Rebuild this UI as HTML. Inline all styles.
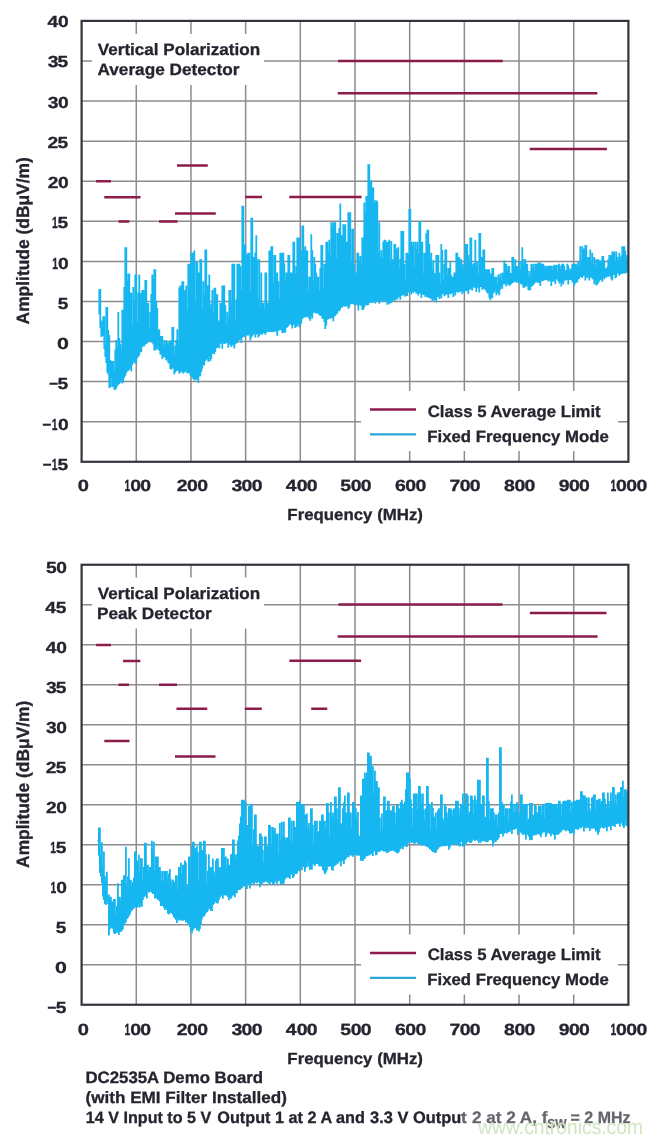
<!DOCTYPE html>
<html><head><meta charset="utf-8"><title>EMI Radiated Emissions</title>
<style>html,body{margin:0;padding:0;background:#fff;}svg{display:block;}</style>
</head><body>
<svg width="662" height="1143" viewBox="0 0 662 1143" style="font-family:'Liberation Sans',Arial,sans-serif;font-weight:bold;text-rendering:geometricPrecision"><path d="M136.28 20.90V461.78M190.96 20.90V461.78M245.64 20.90V461.78M300.32 20.90V461.78M355.00 20.90V461.78M409.68 20.90V461.78M464.36 20.90V461.78M519.04 20.90V461.78M573.72 20.90V461.78M81.60 60.98H628.40M81.60 101.06H628.40M81.60 141.14H628.40M81.60 181.22H628.40M81.60 221.30H628.40M81.60 261.38H628.40M81.60 301.46H628.40M81.60 341.54H628.40M81.60 381.62H628.40M81.60 421.70H628.40" stroke="#8c8c8c" stroke-width="1.5" fill="none"/>
<rect x="92" y="34.00" width="172" height="51" fill="#fff"/>
<rect x="361" y="391.00" width="257" height="60" fill="#fff"/>
<path d="M98.3 301.1V302.1M99.3 288.9V314.2M100.3 288.9V328.2M101.3 320.6V337.0M102.3 321.7V335.8M103.3 316.2V336.3M104.3 316.2V349.0M105.3 344.9V357.1M106.3 306.9V363.0M107.3 306.9V372.5M108.3 330.0V374.6M109.3 335.0V387.9M110.3 360.0V387.2M111.3 361.0V378.0M112.3 361.0V386.9M113.3 361.0V386.1M114.3 370.7V389.4M115.3 349.5V390.1M116.3 340.0V388.2M117.3 346.2V386.1M118.3 312.0V384.8M119.3 338.0V383.8M120.3 343.7V382.7M121.3 350.6V379.7M122.3 309.8V383.5M123.3 309.8V382.6M124.3 287.0V377.8M125.3 247.3V375.9M126.3 247.3V373.0M127.3 281.0V371.3M128.3 273.4V370.9M129.3 273.4V369.5M130.3 292.7V367.6M131.3 292.7V371.4M132.3 324.6V365.0M133.3 287.0V362.8M134.3 299.6V361.5M135.3 274.5V363.8M136.3 274.5V362.9M137.3 321.9V358.2M138.3 292.7V356.8M139.3 274.5V355.5M140.3 292.7V352.0M141.3 292.7V352.3M142.3 290.0V347.0M143.3 290.0V345.6M144.3 290.0V346.5M145.3 280.1V344.3M146.3 280.1V344.3M147.3 303.0V343.0M148.3 303.0V341.5M149.3 327.3V340.8M150.3 311.8V341.4M151.3 293.9V342.2M152.3 274.6V342.6M153.3 278.6V344.4M154.3 269.2V350.5M155.3 269.2V350.3M156.3 300.9V349.5M157.3 308.1V346.5M158.3 331.1V349.7M159.3 329.3V350.7M160.3 335.9V354.3M161.3 335.9V354.8M162.3 335.9V358.9M163.3 346.4V356.7M164.3 340.2V357.3M165.3 344.3V357.8M166.3 340.2V360.6M167.3 342.4V360.4M168.3 342.4V362.9M169.3 342.4V363.8M170.3 340.2V368.9M171.3 340.2V369.4M172.3 327.1V368.5M173.3 327.1V368.3M174.3 353.7V374.6M175.3 345.6V372.4M176.3 339.9V371.0M177.3 329.3V370.9M178.3 342.4V370.4M179.3 287.6V373.8M180.3 285.6V372.4M181.3 285.6V370.5M182.3 281.2V372.2M183.3 281.2V373.5M184.3 290.1V372.2M185.3 290.0V371.9M186.3 285.6V369.5M187.3 310.6V373.6M188.3 263.7V372.6M189.3 263.7V373.0M190.3 263.7V375.2M191.3 252.8V376.6M192.3 252.8V377.5M193.3 252.8V379.0M194.3 250.6V380.6M195.3 300.9V379.7M196.3 261.5V378.6M197.3 262.4V380.0M198.3 272.5V382.8M199.3 272.5V376.6M200.3 259.3V376.2M201.3 259.3V371.7M202.3 308.4V368.7M203.3 281.2V364.4M204.3 294.1V365.4M205.3 249.5V360.9M206.3 249.5V359.8M207.3 285.6V359.0M208.3 285.6V362.1M209.3 274.6V356.0M210.3 306.9V360.9M211.3 303.5V359.1M212.3 290.0V353.8M213.3 313.2V353.7M214.3 287.8V354.3M215.3 287.8V351.8M216.3 294.3V348.2M217.3 294.3V347.8M218.3 320.6V347.5M219.3 320.6V348.3M220.3 303.0V343.4M221.3 303.0V343.7M222.3 285.6V348.7M223.3 285.6V342.5M224.3 285.6V344.0M225.3 305.1V342.0M226.3 323.7V343.4M227.3 311.8V343.1M228.3 317.5V347.7M229.3 290.0V343.6M230.3 290.0V345.1M231.3 303.1V347.0M232.3 263.7V344.2M233.3 263.7V345.4M234.3 263.7V348.4M235.3 320.7V344.3M236.3 299.6V343.1M237.3 263.7V343.2M238.3 263.7V340.7M239.3 263.7V339.9M240.3 266.2V338.4M241.3 289.9V342.9M242.3 205.8V338.1M243.3 205.8V336.0M244.3 244.6V337.0M245.3 244.5V336.6M246.3 255.4V335.2M247.3 254.0V335.6M248.3 252.8V335.4M249.3 252.8V334.2M250.3 290.3V340.5M251.3 217.8V337.8M252.3 217.8V336.0M253.3 257.1V334.5M254.3 257.1V333.8M255.3 252.6V337.5M256.3 235.3V334.4M257.3 259.3V333.6M258.3 298.3V337.6M259.3 259.3V335.7M260.3 305.4V334.4M261.3 272.5V333.6M262.3 303.0V334.7M263.3 303.0V332.9M264.3 309.2V333.1M265.3 272.5V334.8M266.3 272.5V333.0M267.3 303.0V331.0M268.3 303.5V332.1M269.3 250.6V331.5M270.3 250.6V331.9M271.3 246.2V332.1M272.3 246.2V330.9M273.3 283.6V332.3M274.3 255.0V331.4M275.3 255.0V331.1M276.3 272.5V331.9M277.3 272.5V335.8M278.3 281.2V330.4M279.3 298.5V330.6M280.3 252.8V329.2M281.3 252.8V330.3M282.3 252.8V333.0M283.3 252.8V333.0M284.3 263.3V332.3M285.3 280.9V332.7M286.3 272.5V327.9M287.3 272.5V327.2M288.3 255.0V326.3M289.3 255.0V324.3M290.3 272.5V324.2M291.3 272.5V325.1M292.3 272.5V328.6M293.3 241.8V324.5M294.3 241.8V325.2M295.3 274.2V328.0M296.3 265.9V326.9M297.3 237.5V325.5M298.3 237.5V323.6M299.3 237.5V327.2M300.3 288.6V325.5M301.3 250.6V323.4M302.3 225.4V319.0M303.3 225.4V317.8M304.3 250.6V317.1M305.3 246.2V317.4M306.3 250.6V316.7M307.3 250.6V317.2M308.3 291.1V316.4M309.3 276.8V318.9M310.3 276.8V320.7M311.3 234.2V316.1M312.3 250.2V318.4M313.3 280.5V312.9M314.3 257.1V311.6M315.3 263.7V312.8M316.3 272.8V313.7M317.3 276.8V313.3M318.3 276.8V313.5M319.3 290.5V315.0M320.3 268.1V316.0M321.3 245.1V314.8M322.3 245.1V318.8M323.3 287.8V318.4M324.3 263.7V322.1M325.3 263.7V329.1M326.3 241.8V325.6M327.3 241.8V319.7M328.3 251.8V319.0M329.3 239.7V317.9M330.3 255.6V318.7M331.3 222.2V317.9M332.3 226.3V317.9M333.3 222.2V321.3M334.3 222.2V316.5M335.3 222.2V315.8M336.3 258.0V314.4M337.3 233.1V313.4M338.3 233.1V310.8M339.3 227.9V311.3M340.3 203.6V309.6M341.3 235.3V307.6M342.3 235.3V307.4M343.3 224.3V306.3M344.3 224.3V306.3M345.3 224.3V306.8M346.3 241.8V306.2M347.3 241.8V305.6M348.3 212.3V308.7M349.3 212.3V307.6M350.3 212.3V304.4M351.3 259.9V304.1M352.3 228.7V303.9M353.3 228.7V303.0M354.3 264.5V304.9M355.3 272.1V304.1M356.3 274.1V305.2M357.3 252.8V304.3M358.3 252.8V310.6M359.3 260.4V304.8M360.3 255.9V305.6M361.3 264.9V305.7M362.3 237.5V310.0M363.3 237.5V309.8M364.3 202.5V307.4M365.3 212.0V305.3M366.3 195.9V304.9M367.3 195.9V305.6M368.3 164.2V305.0M369.3 164.2V302.9M370.3 180.6V303.1M371.3 180.6V301.8M372.3 187.2V302.8M373.3 187.2V302.4M374.3 203.5V302.1M375.3 200.3V303.4M376.3 200.3V300.7M377.3 201.4V301.3M378.3 252.6V301.2M379.3 222.2V303.7M380.3 257.6V301.8M381.3 250.2V300.8M382.3 258.5V300.8M383.3 241.8V301.9M384.3 239.7V300.7M385.3 239.7V301.3M386.3 241.8V301.3M387.3 241.8V304.7M388.3 241.8V302.9M389.3 239.7V304.3M390.3 262.0V302.7M391.3 241.0V303.1M392.3 259.3V301.5M393.3 259.3V299.7M394.3 244.0V300.7M395.3 244.0V300.4M396.3 248.4V299.0M397.3 248.4V299.4M398.3 247.3V297.0M399.3 267.7V297.4M400.3 258.7V299.8M401.3 230.9V295.7M402.3 230.9V295.1M403.3 230.9V295.5M404.3 263.7V295.1M405.3 280.3V296.7M406.3 252.9V295.7M407.3 252.8V296.0M408.3 254.8V292.4M409.3 209.0V291.8M410.3 209.0V292.1M411.3 241.8V294.5M412.3 246.0V291.5M413.3 241.8V292.9M414.3 266.2V291.8M415.3 241.8V291.7M416.3 248.7V293.7M417.3 241.8V293.4M418.3 253.7V295.5M419.3 221.1V293.4M420.3 221.1V293.6M421.3 241.8V297.9M422.3 241.8V294.8M423.3 273.3V294.8M424.3 252.8V295.0M425.3 252.8V296.9M426.3 233.2V296.3M427.3 229.8V297.3M428.3 229.8V297.8M429.3 244.0V297.6M430.3 259.1V298.7M431.3 252.8V298.2M432.3 270.4V300.7M433.3 260.6V300.3M434.3 272.9V300.5M435.3 274.0V300.1M436.3 255.0V302.6M437.3 255.0V297.0M438.3 255.0V296.5M439.3 272.5V298.9M440.3 283.0V295.4M441.3 244.0V298.6M442.3 250.1V293.9M443.3 280.2V293.9M444.3 263.7V296.2M445.3 249.5V295.1M446.3 249.5V294.2M447.3 274.8V294.6M448.3 268.1V298.0M449.3 268.1V294.1M450.3 261.5V294.2M451.3 275.3V293.6M452.3 276.8V293.5M453.3 276.8V297.1M454.3 272.5V293.0M455.3 272.5V295.4M456.3 252.8V291.7M457.3 252.8V291.9M458.3 257.1V292.8M459.3 257.1V291.1M460.3 259.3V292.1M461.3 259.3V291.1M462.3 267.5V294.2M463.3 263.7V292.3M464.3 277.1V291.4M465.3 244.0V290.8M466.3 244.0V291.2M467.3 244.0V291.3M468.3 255.0V293.9M469.3 261.4V289.8M470.3 237.5V288.4M471.3 237.5V289.7M472.3 265.8V290.5M473.3 263.7V287.1M474.3 262.9V287.5M475.3 239.7V288.1M476.3 266.0V292.0M477.3 261.5V286.4M478.3 273.6V288.3M479.3 233.1V292.5M480.3 233.1V286.9M481.3 257.1V286.8M482.3 257.1V289.8M483.3 249.5V288.1M484.3 249.5V289.2M485.3 269.2V289.6M486.3 269.2V291.2M487.3 269.2V293.2M488.3 269.2V293.4M489.3 269.2V297.7M490.3 273.5V300.3M491.3 274.3V298.2M492.3 268.1V298.3M493.3 268.1V293.2M494.3 276.8V292.4M495.3 276.8V289.6M496.3 276.8V295.3M497.3 283.2V291.7M498.3 274.6V293.6M499.3 278.0V295.2M500.3 273.5V289.8M501.3 280.0V286.3M502.3 272.5V288.8M503.3 273.6V284.2M504.3 260.4V284.1M505.3 263.7V284.5M506.3 263.7V286.6M507.3 270.6V284.2M508.3 265.9V284.3M509.3 265.9V286.0M510.3 273.6V285.0M511.3 273.1V284.0M512.3 257.1V283.0M513.3 257.1V282.6M514.3 267.7V282.0M515.3 259.3V280.5M516.3 265.9V282.4M517.3 265.9V282.7M518.3 268.8V282.5M519.3 261.5V282.3M520.3 269.1V283.5M521.3 261.2V284.4M522.3 247.3V284.5M523.3 265.2V287.8M524.3 259.3V287.7M525.3 259.3V286.6M526.3 263.7V286.4M527.3 263.7V284.5M528.3 276.4V290.1M529.3 271.1V290.5M530.3 276.6V290.0M531.3 263.7V286.5M532.3 268.4V286.3M533.3 263.7V285.1M534.3 270.9V283.5M535.3 263.7V282.8M536.3 263.7V282.0M537.3 263.7V282.6M538.3 262.6V283.0M539.3 262.6V282.8M540.3 262.6V285.9M541.3 263.7V281.6M542.3 263.7V280.9M543.3 263.7V280.7M544.3 265.8V280.2M545.3 269.3V280.3M546.3 265.8V279.4M547.3 267.1V280.0M548.3 265.8V281.5M549.3 265.8V280.0M550.3 265.8V281.3M551.3 265.8V286.0M552.3 270.3V281.6M553.3 265.8V281.8M554.3 264.8V279.8M555.3 266.7V283.9M556.3 264.8V279.4M557.3 271.7V279.5M558.3 264.8V280.9M559.3 263.7V283.5M560.3 269.1V281.9M561.3 265.4V286.6M562.3 263.7V282.5M563.3 263.7V284.2M564.3 265.8V280.7M565.3 270.5V280.5M566.3 269.9V280.3M567.3 263.7V279.7M568.3 265.3V284.6M569.3 270.7V279.2M570.3 268.4V279.9M571.3 270.1V279.7M572.3 263.7V282.3M573.3 266.9V281.5M574.3 263.7V285.7M575.3 263.7V283.6M576.3 263.7V281.9M577.3 265.8V282.6M578.3 261.5V278.8M579.3 265.6V279.3M580.3 246.2V276.4M581.3 262.2V276.9M582.3 246.2V278.1M583.3 248.4V275.9M584.3 248.4V275.8M585.3 245.1V280.5M586.3 245.1V277.3M587.3 257.1V277.9M588.3 257.1V277.3M589.3 257.1V280.6M590.3 249.5V277.4M591.3 262.9V277.6M592.3 252.7V278.8M593.3 264.0V279.6M594.3 257.1V284.2M595.3 266.3V280.2M596.3 259.3V285.4M597.3 259.3V284.5M598.3 259.3V283.1M599.3 260.4V281.3M600.3 260.4V280.0M601.3 260.4V279.8M602.3 256.0V281.8M603.3 256.0V277.3M604.3 260.6V279.3M605.3 268.6V276.1M606.3 268.3V277.7M607.3 266.8V276.7M608.3 259.3V276.7M609.3 254.9V275.9M610.3 254.9V276.3M611.3 255.5V279.2M612.3 251.6V280.4M613.3 251.6V275.1M614.3 251.6V274.3M615.3 260.7V278.3M616.3 251.6V277.4M617.3 257.1V273.4M618.3 262.5V273.2M619.3 252.7V275.7M620.3 259.1V274.2M621.3 255.5V273.5M622.3 246.2V274.1M623.3 246.2V273.1M624.3 246.2V273.6M625.3 250.5V272.3M626.3 258.1V273.2M627.3 254.9V272.1" stroke="#16b6f0" stroke-width="1.8" fill="none"/>
<path d="M96.1 181.3H111.0M104.3 197.3H140.5M118.5 221.4H129.3M159.0 221.4H177.5M177.0 165.4H207.8M175.0 213.4H215.8M245.3 197.1H262.0M289.3 197.1H361.6M338.0 61.0H502.8M337.8 93.2H597.4M529.7 149.0H606.9" stroke="#8d1b4b" stroke-width="2.5" fill="none"/>
<rect x="81.60" y="20.90" width="546.80" height="440.88" fill="none" stroke="#34343f" stroke-width="2.2"/>
<path d="M370 409.50H416" stroke="#8d1b4b" stroke-width="2.4"/>
<path d="M370 434.40H416" stroke="#2aa8d8" stroke-width="2.2"/>
<g fill="#25242f" stroke="#25242f" stroke-width="0.3">
<text transform="translate(427.76 416.80) scale(1.0155 1.0000)" font-size="16.5">Class 5 Average Limit</text>
<text transform="translate(427.35 441.80) scale(1.0143 1.0000)" font-size="16.5">Fixed Frequency Mode</text>
<text transform="translate(97.78 55.30) scale(1.0355 1.0000)" font-size="16.5">Vertical Polarization</text>
<text transform="translate(97.47 75.30) scale(1.0433 1.0000)" font-size="16.5">Average Detector</text>
<text transform="translate(0 27.00) scale(1.200 1.000)" font-size="16.0"><tspan x="39.57">4</tspan><tspan x="48.33">0</tspan></text>
<text transform="translate(0 67.26) scale(1.200 1.000)" font-size="16.0"><tspan x="39.79">3</tspan><tspan x="47.95">5</tspan></text>
<text transform="translate(0 107.52) scale(1.200 1.000)" font-size="16.0"><tspan x="39.79">3</tspan><tspan x="48.33">0</tspan></text>
<text transform="translate(0 147.78) scale(1.200 1.000)" font-size="16.0"><tspan x="39.57">2</tspan><tspan x="47.95">5</tspan></text>
<text transform="translate(0 188.04) scale(1.200 1.000)" font-size="16.0"><tspan x="39.76">2</tspan><tspan x="48.33">0</tspan></text>
<text transform="translate(0 228.30) scale(1.200 1.000)" font-size="16.0"><tspan x="43.28" textLength="4.79" lengthAdjust="spacingAndGlyphs">1</tspan><tspan x="47.95">5</tspan></text>
<text transform="translate(0 268.56) scale(1.200 1.000)" font-size="16.0"><tspan x="43.62" textLength="4.79" lengthAdjust="spacingAndGlyphs">1</tspan><tspan x="48.33">0</tspan></text>
<text transform="translate(57.65 308.82) scale(1.1870 1.0000)" font-size="16.0">5</text>
<text transform="translate(56.91 349.08) scale(1.3364 1.0000)" font-size="16.0">0</text>
<text transform="translate(0 389.34) scale(1.200 1.000)" font-size="16.0"><tspan x="41.01" textLength="7.23" lengthAdjust="spacingAndGlyphs" dy="-1">–</tspan><tspan x="47.95" dy="1">5</tspan></text>
<text transform="translate(0 429.60) scale(1.200 1.000)" font-size="16.0"><tspan x="35.35" textLength="7.23" lengthAdjust="spacingAndGlyphs" dy="-1">–</tspan><tspan x="43.03" textLength="4.79" lengthAdjust="spacingAndGlyphs" dy="1">1</tspan><tspan x="48.33">0</tspan></text>
<text transform="translate(0 469.86) scale(1.200 1.000)" font-size="16.0"><tspan x="35.68" textLength="7.23" lengthAdjust="spacingAndGlyphs" dy="-1">–</tspan><tspan x="43.03" textLength="4.79" lengthAdjust="spacingAndGlyphs" dy="1">1</tspan><tspan x="47.95">5</tspan></text>
<text transform="translate(77.63 491.00) scale(1.2423 1.0000)" font-size="16.2">0</text>
<text transform="translate(0 491.00) scale(1.200 1.000)" font-size="16.2"><tspan x="103.78" textLength="4.79" lengthAdjust="spacingAndGlyphs">1</tspan><tspan x="108.49">0</tspan><tspan x="116.97">0</tspan></text>
<text transform="translate(0 491.00) scale(1.200 1.000)" font-size="16.2"><tspan x="147.32">2</tspan><tspan x="155.85">0</tspan><tspan x="164.33">0</tspan></text>
<text transform="translate(0 491.00) scale(1.200 1.000)" font-size="16.2"><tspan x="192.83">3</tspan><tspan x="201.32">0</tspan><tspan x="209.80">0</tspan></text>
<text transform="translate(0 491.00) scale(1.200 1.000)" font-size="16.2"><tspan x="238.13">4</tspan><tspan x="247.21">0</tspan><tspan x="255.69">0</tspan></text>
<text transform="translate(0 491.00) scale(1.200 1.000)" font-size="16.2"><tspan x="283.59">5</tspan><tspan x="292.24">0</tspan><tspan x="300.72">0</tspan></text>
<text transform="translate(0 491.00) scale(1.200 1.000)" font-size="16.2"><tspan x="329.16">6</tspan><tspan x="337.69">0</tspan><tspan x="346.17">0</tspan></text>
<text transform="translate(0 491.00) scale(1.200 1.000)" font-size="16.2"><tspan x="374.62">7</tspan><tspan x="383.08">0</tspan><tspan x="391.56">0</tspan></text>
<text transform="translate(0 491.00) scale(1.200 1.000)" font-size="16.2"><tspan x="420.08">8</tspan><tspan x="428.68">0</tspan><tspan x="437.16">0</tspan></text>
<text transform="translate(0 491.00) scale(1.200 1.000)" font-size="16.2"><tspan x="465.56">9</tspan><tspan x="474.10">0</tspan><tspan x="482.58">0</tspan></text>
<text transform="translate(0 491.00) scale(1.200 1.000)" font-size="16.2"><tspan x="508.67" textLength="4.79" lengthAdjust="spacingAndGlyphs">1</tspan><tspan x="513.43">0</tspan><tspan x="521.95">0</tspan><tspan x="530.48">0</tspan></text>
<text transform="translate(287.35 520.00) scale(1.0201 0.9800)" font-size="16.5">Frequency (MHz)</text>
<text transform="translate(28.7 324.43) rotate(-90) scale(1.0546 1.08)" font-size="16.5">Amplitude (dB&#956;V/m)</text>
</g>
<path d="M136.28 564.75V1004.75M190.96 564.75V1004.75M245.64 564.75V1004.75M300.32 564.75V1004.75M355.00 564.75V1004.75M409.68 564.75V1004.75M464.36 564.75V1004.75M519.04 564.75V1004.75M573.72 564.75V1004.75M81.60 604.75H628.40M81.60 644.75H628.40M81.60 684.75H628.40M81.60 724.75H628.40M81.60 764.75H628.40M81.60 804.75H628.40M81.60 844.75H628.40M81.60 884.75H628.40M81.60 924.75H628.40M81.60 964.75H628.40" stroke="#8c8c8c" stroke-width="1.5" fill="none"/>
<rect x="92" y="577.50" width="172" height="51" fill="#fff"/>
<rect x="361" y="934.50" width="257" height="60" fill="#fff"/>
<path d="M97.9 840.4V841.4M98.9 827.5V855.8M99.9 827.5V872.9M100.9 854.9V876.6M101.9 842.3V883.2M102.9 867.3V896.6M103.9 851.4V899.9M104.9 875.7V904.1M105.9 881.0V904.9M106.9 871.8V904.1M107.9 894.5V901.0M108.9 894.5V935.4M109.9 896.8V929.2M110.9 896.8V925.7M111.9 901.4V928.3M112.9 901.4V928.7M113.9 899.1V933.2M114.9 899.1V934.0M115.9 914.7V933.3M116.9 906.0V932.4M117.9 883.2V932.4M118.9 896.8V935.1M119.9 896.8V932.1M120.9 900.0V931.7M121.9 879.8V930.8M122.9 879.8V929.2M123.9 875.2V924.4M124.9 875.2V923.4M125.9 846.8V922.6M126.9 885.9V918.9M127.9 876.4V918.0M128.9 858.2V916.2M129.9 879.8V914.4M130.9 879.8V911.5M131.9 886.3V910.8M132.9 882.0V909.3M133.9 877.5V908.4M134.9 851.4V906.7M135.9 851.4V907.2M136.9 866.2V907.4M137.9 860.5V907.6M138.9 854.8V904.6M139.9 872.4V907.6M140.9 858.2V903.4M141.9 858.2V906.7M142.9 879.7V899.9M143.9 866.8V897.2M144.9 842.8V896.4M145.9 842.8V894.6M146.9 864.8V898.5M147.9 864.8V891.3M148.9 870.8V892.4M149.9 866.9V891.7M150.9 866.9V891.6M151.9 840.7V892.6M152.9 849.0V893.9M153.9 841.7V893.5M154.9 870.2V898.2M155.9 856.4V898.5M156.9 856.4V898.3M157.9 856.4V899.7M158.9 866.9V900.2M159.9 866.9V901.4M160.9 871.1V906.1M161.9 881.1V905.6M162.9 871.1V906.0M163.9 880.7V907.4M164.9 871.1V909.9M165.9 871.1V908.0M166.9 871.1V909.4M167.9 878.4V913.8M168.9 873.5V914.3M169.9 869.0V913.3M170.9 879.5V912.8M171.9 887.2V913.3M172.9 879.5V915.0M173.9 881.8V917.2M174.9 881.6V918.3M175.9 875.3V919.7M176.9 875.3V922.9M177.9 889.5V919.0M178.9 866.9V920.4M179.9 866.9V918.5M180.9 862.7V920.4M181.9 874.3V920.2M182.9 864.8V920.8M183.9 864.8V920.0M184.9 860.6V920.0M185.9 862.5V922.5M186.9 887.1V921.3M187.9 884.7V923.8M188.9 856.4V923.9M189.9 856.4V927.1M190.9 870.9V931.1M191.9 846.0V933.4M192.9 841.7V930.5M193.9 841.7V928.8M194.9 848.0V927.1M195.9 848.0V927.9M196.9 846.0V930.4M197.9 851.8V930.1M198.9 880.1V931.5M199.9 841.7V929.1M200.9 841.7V924.0M201.9 850.1V919.4M202.9 850.1V916.7M203.9 840.7V916.8M204.9 840.7V915.0M205.9 854.2V912.8M206.9 883.7V912.3M207.9 870.8V910.9M208.9 854.3V907.9M209.9 866.9V908.9M210.9 866.9V910.9M211.9 866.9V911.1M212.9 858.5V905.1M213.9 871.3V904.0M214.9 876.0V902.6M215.9 860.6V902.1M216.9 858.5V903.2M217.9 858.5V903.5M218.9 866.9V900.0M219.9 866.9V897.8M220.9 868.8V895.9M221.9 848.0V894.9M222.9 848.0V898.8M223.9 848.0V895.1M224.9 856.4V895.5M225.9 856.4V895.2M226.9 866.5V895.5M227.9 858.5V896.9M228.9 864.8V900.3M229.9 864.8V897.0M230.9 854.3V898.7M231.9 854.3V896.6M232.9 839.6V895.5M233.9 839.6V895.1M234.9 854.3V897.3M235.9 859.0V893.1M236.9 854.3V893.3M237.9 840.4V890.1M238.9 835.4V890.0M239.9 823.6V890.1M240.9 816.6V888.7M241.9 799.8V888.1M242.9 799.8V886.7M243.9 799.8V886.2M244.9 801.9V885.6M245.9 801.9V885.7M246.9 825.0V889.0M247.9 825.0V883.5M248.9 806.1V885.0M249.9 806.1V888.6M250.9 804.0V884.0M251.9 804.0V883.3M252.9 845.5V882.4M253.9 829.2V885.0M254.9 814.5V882.7M255.9 814.5V882.1M256.9 846.0V883.3M257.9 846.0V882.1M258.9 846.0V882.3M259.9 833.4V887.2M260.9 833.4V883.2M261.9 836.6V884.5M262.9 850.1V882.1M263.9 862.4V882.7M264.9 836.5V881.6M265.9 836.5V881.7M266.9 846.0V881.7M267.9 846.0V883.3M268.9 825.0V880.8M269.9 825.0V885.1M270.9 827.1V882.2M271.9 846.0V882.2M272.9 827.1V884.3M273.9 830.1V884.5M274.9 828.1V882.4M275.9 833.4V881.5M276.9 833.4V883.7M277.9 833.4V881.3M278.9 853.3V881.0M279.9 822.9V881.2M280.9 839.6V884.4M281.9 821.8V883.7M282.9 836.6V884.5M283.9 821.8V883.3M284.9 837.2V879.6M285.9 840.3V877.9M286.9 837.5V876.8M287.9 837.5V877.8M288.9 817.6V876.9M289.9 817.6V878.7M290.9 839.4V874.5M291.9 820.8V874.2M292.9 842.9V878.1M293.9 820.8V876.5M294.9 827.1V873.1M295.9 827.1V874.0M296.9 801.9V873.8M297.9 801.9V871.0M298.9 801.9V871.3M299.9 800.8V869.3M300.9 822.1V865.7M301.9 804.0V870.2M302.9 804.0V866.2M303.9 804.0V866.9M304.9 814.5V871.8M305.9 814.5V867.4M306.9 813.4V867.2M307.9 827.1V862.0M308.9 822.9V866.4M309.9 829.8V869.7M310.9 808.2V869.3M311.9 808.2V869.8M312.9 825.0V864.7M313.9 843.7V863.6M314.9 820.8V866.1M315.9 820.8V863.5M316.9 820.8V863.9M317.9 831.3V864.1M318.9 831.3V866.1M319.9 820.8V866.6M320.9 820.8V865.7M321.9 814.5V866.4M322.9 814.5V870.0M323.9 820.8V871.3M324.9 820.8V874.2M325.9 827.7V872.4M326.9 802.9V870.3M327.9 802.9V866.7M328.9 812.4V866.7M329.9 836.4V866.0M330.9 801.9V866.6M331.9 816.7V870.1M332.9 812.4V870.8M333.9 817.1V866.5M334.9 796.6V865.7M335.9 796.6V865.1M336.9 808.2V863.6M337.9 820.6V863.7M338.9 787.2V861.8M339.9 787.2V861.4M340.9 823.8V866.3M341.9 823.3V861.6M342.9 808.2V860.0M343.9 802.5V864.1M344.9 795.6V860.0M345.9 812.4V858.8M346.9 812.4V857.2M347.9 792.4V857.3M348.9 792.4V856.8M349.9 812.4V855.1M350.9 812.4V855.2M351.9 827.5V855.7M352.9 801.9V856.8M353.9 801.9V855.2M354.9 808.2V853.7M355.9 808.2V854.9M356.9 818.2V855.5M357.9 812.1V855.8M358.9 836.1V854.6M359.9 835.6V855.7M360.9 795.6V860.8M361.9 795.6V860.1M362.9 778.8V860.9M363.9 778.8V858.9M364.9 772.5V858.6M365.9 778.2V856.2M366.9 772.5V855.8M367.9 752.5V856.3M368.9 752.5V854.5M369.9 755.7V855.2M370.9 755.7V853.5M371.9 766.2V853.9M372.9 766.2V855.9M373.9 793.8V851.4M374.9 770.4V851.6M375.9 780.9V855.3M376.9 780.9V854.6M377.9 787.2V852.1M378.9 787.2V851.6M379.9 817.5V851.7M380.9 830.4V850.1M381.9 813.4V850.4M382.9 827.9V850.7M383.9 796.6V851.6M384.9 796.6V851.3M385.9 810.3V851.5M386.9 810.3V853.1M387.9 800.8V852.6M388.9 800.8V851.9M389.9 810.3V850.3M390.9 810.3V850.9M391.9 810.3V850.5M392.9 806.1V850.4M393.9 806.1V851.3M394.9 812.4V851.1M395.9 823.6V852.5M396.9 804.0V852.8M397.9 804.0V853.5M398.9 808.2V852.1M399.9 808.2V849.2M400.9 801.9V848.5M401.9 799.8V846.9M402.9 804.0V849.3M403.9 804.0V845.3M404.9 801.6V846.4M405.9 789.3V844.4M406.9 772.5V847.1M407.9 772.5V843.5M408.9 772.5V842.6M409.9 778.8V841.8M410.9 799.3V841.2M411.9 808.2V842.9M412.9 825.5V841.5M413.9 793.5V843.6M414.9 793.5V843.7M415.9 793.5V842.4M416.9 793.5V842.5M417.9 809.1V843.8M418.9 786.1V844.2M419.9 786.1V844.2M420.9 793.5V845.4M421.9 803.7V845.4M422.9 793.5V844.1M423.9 809.5V845.4M424.9 819.0V844.7M425.9 808.2V846.6M426.9 786.1V846.6M427.9 786.1V847.3M428.9 804.0V847.8M429.9 804.0V849.4M430.9 829.0V849.0M431.9 801.9V851.1M432.9 807.7V852.0M433.9 816.6V852.1M434.9 816.6V852.9M435.9 812.5V852.8M436.9 828.7V850.3M437.9 810.3V848.9M438.9 808.2V847.4M439.9 808.2V846.9M440.9 794.5V845.8M441.9 794.5V846.6M442.9 818.5V845.5M443.9 821.5V846.0M444.9 804.0V846.2M445.9 806.3V846.0M446.9 812.4V844.4M447.9 817.1V845.4M448.9 808.2V849.8M449.9 808.2V847.6M450.9 808.2V844.9M451.9 810.3V845.1M452.9 815.5V845.0M453.9 808.2V844.6M454.9 808.2V844.4M455.9 800.8V844.0M456.9 800.8V845.2M457.9 800.8V843.7M458.9 808.2V845.7M459.9 815.5V846.4M460.9 804.0V842.1M461.9 804.0V842.1M462.9 793.5V846.5M463.9 804.9V846.5M464.9 808.6V842.6M465.9 793.5V844.8M466.9 793.5V842.6M467.9 795.6V841.9M468.9 814.5V840.2M469.9 811.6V842.7M470.9 795.6V843.1M471.9 795.8V841.4M472.9 799.8V839.8M473.9 813.9V839.8M474.9 795.6V840.9M475.9 799.8V840.1M476.9 804.2V839.7M477.9 779.8V841.1M478.9 779.8V843.1M479.9 779.8V839.0M480.9 804.0V842.8M481.9 804.0V840.0M482.9 795.6V840.9M483.9 795.6V841.5M484.9 816.8V840.6M485.9 817.1V841.7M486.9 757.8V842.2M487.9 757.8V841.8M488.9 801.3V840.2M489.9 819.5V840.2M490.9 808.2V839.8M491.9 808.2V840.4M492.9 808.2V846.5M493.9 812.4V842.8M494.9 819.2V840.1M495.9 814.5V842.1M496.9 814.5V839.9M497.9 826.6V839.4M498.9 812.4V837.8M499.9 747.3V833.9M500.9 747.3V833.9M501.9 801.9V833.3M502.9 804.4V836.6M503.9 804.0V833.8M504.9 815.5V833.0M505.9 808.2V832.7M506.9 808.2V833.4M507.9 808.2V832.3M508.9 821.3V832.2M509.9 808.2V831.6M510.9 801.8V830.1M511.9 794.5V833.9M512.9 804.0V829.7M513.9 812.2V829.8M514.9 804.0V829.0M515.9 811.3V828.8M516.9 801.9V828.7M517.9 803.9V835.0M518.9 816.6V831.5M519.9 812.6V832.8M520.9 794.5V832.1M521.9 794.5V833.5M522.9 803.9V835.0M523.9 803.9V833.5M524.9 803.9V834.5M525.9 803.9V839.5M526.9 803.9V834.8M527.9 820.1V834.8M528.9 818.4V836.5M529.9 802.9V840.2M530.9 802.9V838.9M531.9 802.9V840.1M532.9 814.9V835.8M533.9 814.7V834.8M534.9 805.0V835.2M535.9 806.0V835.2M536.9 813.4V834.2M537.9 812.1V833.3M538.9 806.0V834.4M539.9 806.0V834.7M540.9 806.0V837.3M541.9 814.8V833.7M542.9 803.9V832.5M543.9 804.3V832.6M544.9 817.4V831.0M545.9 802.9V837.1M546.9 802.9V834.5M547.9 802.9V831.9M548.9 802.9V833.0M549.9 802.9V834.1M550.9 802.9V836.2M551.9 803.9V833.3M552.9 803.9V833.9M553.9 804.6V835.0M554.9 803.9V839.4M555.9 803.9V834.6M556.9 803.9V834.9M557.9 808.8V834.6M558.9 800.8V834.1M559.9 800.8V832.4M560.9 804.7V832.5M561.9 815.6V830.4M562.9 801.8V829.3M563.9 800.8V829.9M564.9 800.8V829.6M565.9 800.8V831.3M566.9 800.8V830.4M567.9 799.7V829.3M568.9 799.7V831.1M569.9 799.7V833.2M570.9 811.5V833.4M571.9 801.8V833.1M572.9 807.5V831.7M573.9 800.8V834.5M574.9 800.8V829.2M575.9 800.8V828.8M576.9 799.7V829.3M577.9 799.7V829.9M578.9 799.9V828.2M579.9 799.4V827.4M580.9 791.3V828.6M581.9 791.3V827.0M582.9 795.1V826.8M583.9 795.5V831.5M584.9 795.5V827.2M585.9 797.6V828.2M586.9 797.6V826.6M587.9 811.2V827.9M588.9 797.6V827.1M589.9 808.5V831.1M590.9 812.0V827.2M591.9 797.6V828.7M592.9 796.8V827.4M593.9 794.5V828.8M594.9 794.5V828.2M595.9 809.4V831.6M596.9 799.7V829.8M597.9 799.7V834.8M598.9 798.7V832.4M599.9 798.7V828.8M600.9 803.3V827.2M601.9 801.1V827.6M602.9 792.4V827.8M603.9 792.4V828.5M604.9 798.7V827.5M605.9 805.1V827.0M606.9 808.5V831.2M607.9 792.4V826.6M608.9 800.9V826.7M609.9 807.3V826.8M610.9 792.4V830.3M611.9 801.2V826.0M612.9 787.1V825.9M613.9 787.1V825.0M614.9 802.8V826.9M615.9 794.5V824.3M616.9 805.0V824.1M617.9 792.4V823.8M618.9 792.4V822.9M619.9 792.1V826.8M620.9 787.1V823.5M621.9 787.1V821.9M622.9 780.8V826.1M623.9 796.9V828.0M624.9 789.2V825.8M625.9 789.2V822.2M626.9 791.3V826.2M627.9 800.8V821.4" stroke="#16b6f0" stroke-width="1.8" fill="none"/>
<path d="M96.1 644.9H111.0M123.1 661.0H140.3M118.5 684.7H129.0M159.0 684.7H177.0M176.5 708.8H207.3M104.3 741.0H129.5M175.0 756.6H215.5M244.8 708.8H261.8M289.4 660.7H361.1M311.2 708.8H327.3M338.4 604.5H502.5M337.7 636.6H597.6M529.9 613.0H606.5" stroke="#8d1b4b" stroke-width="2.5" fill="none"/>
<rect x="81.60" y="564.75" width="546.80" height="440.00" fill="none" stroke="#34343f" stroke-width="2.2"/>
<path d="M370 953.00H416" stroke="#8d1b4b" stroke-width="2.4"/>
<path d="M370 977.90H416" stroke="#2aa8d8" stroke-width="2.2"/>
<g fill="#25242f" stroke="#25242f" stroke-width="0.3">
<text transform="translate(427.76 960.30) scale(1.0155 1.0000)" font-size="16.5">Class 5 Average Limit</text>
<text transform="translate(427.35 985.30) scale(1.0143 1.0000)" font-size="16.5">Fixed Frequency Mode</text>
<text transform="translate(97.78 598.80) scale(1.0355 1.0000)" font-size="16.5">Vertical Polarization</text>
<text transform="translate(96.92 618.80) scale(1.0425 1.0000)" font-size="16.5">Peak Detector</text>
<text transform="translate(0 573.20) scale(1.200 1.000)" font-size="16.0"><tspan x="38.28">5</tspan><tspan x="46.83">0</tspan></text>
<text transform="translate(0 613.16) scale(1.200 1.000)" font-size="16.0"><tspan x="37.74">4</tspan><tspan x="46.45">5</tspan></text>
<text transform="translate(0 653.12) scale(1.200 1.000)" font-size="16.0"><tspan x="38.07">4</tspan><tspan x="46.83">0</tspan></text>
<text transform="translate(0 693.08) scale(1.200 1.000)" font-size="16.0"><tspan x="38.29">3</tspan><tspan x="46.45">5</tspan></text>
<text transform="translate(0 733.04) scale(1.200 1.000)" font-size="16.0"><tspan x="38.29">3</tspan><tspan x="46.83">0</tspan></text>
<text transform="translate(0 773.00) scale(1.200 1.000)" font-size="16.0"><tspan x="38.07">2</tspan><tspan x="46.45">5</tspan></text>
<text transform="translate(0 812.96) scale(1.200 1.000)" font-size="16.0"><tspan x="38.26">2</tspan><tspan x="46.83">0</tspan></text>
<text transform="translate(0 852.92) scale(1.200 1.000)" font-size="16.0"><tspan x="41.78" textLength="4.79" lengthAdjust="spacingAndGlyphs">1</tspan><tspan x="46.45">5</tspan></text>
<text transform="translate(0 892.88) scale(1.200 1.000)" font-size="16.0"><tspan x="42.12" textLength="4.79" lengthAdjust="spacingAndGlyphs">1</tspan><tspan x="46.83">0</tspan></text>
<text transform="translate(55.85 932.84) scale(1.1870 1.0000)" font-size="16.0">5</text>
<text transform="translate(55.11 972.80) scale(1.3364 1.0000)" font-size="16.0">0</text>
<text transform="translate(0 1012.76) scale(1.200 1.000)" font-size="16.0"><tspan x="39.51" textLength="7.23" lengthAdjust="spacingAndGlyphs" dy="-1">–</tspan><tspan x="46.45" dy="1">5</tspan></text>
<text transform="translate(77.63 1034.50) scale(1.2423 1.0000)" font-size="16.2">0</text>
<text transform="translate(0 1034.50) scale(1.200 1.000)" font-size="16.2"><tspan x="103.78" textLength="4.79" lengthAdjust="spacingAndGlyphs">1</tspan><tspan x="108.49">0</tspan><tspan x="116.97">0</tspan></text>
<text transform="translate(0 1034.50) scale(1.200 1.000)" font-size="16.2"><tspan x="147.32">2</tspan><tspan x="155.85">0</tspan><tspan x="164.33">0</tspan></text>
<text transform="translate(0 1034.50) scale(1.200 1.000)" font-size="16.2"><tspan x="192.83">3</tspan><tspan x="201.32">0</tspan><tspan x="209.80">0</tspan></text>
<text transform="translate(0 1034.50) scale(1.200 1.000)" font-size="16.2"><tspan x="238.13">4</tspan><tspan x="247.21">0</tspan><tspan x="255.69">0</tspan></text>
<text transform="translate(0 1034.50) scale(1.200 1.000)" font-size="16.2"><tspan x="283.59">5</tspan><tspan x="292.24">0</tspan><tspan x="300.72">0</tspan></text>
<text transform="translate(0 1034.50) scale(1.200 1.000)" font-size="16.2"><tspan x="329.16">6</tspan><tspan x="337.69">0</tspan><tspan x="346.17">0</tspan></text>
<text transform="translate(0 1034.50) scale(1.200 1.000)" font-size="16.2"><tspan x="374.62">7</tspan><tspan x="383.08">0</tspan><tspan x="391.56">0</tspan></text>
<text transform="translate(0 1034.50) scale(1.200 1.000)" font-size="16.2"><tspan x="420.08">8</tspan><tspan x="428.68">0</tspan><tspan x="437.16">0</tspan></text>
<text transform="translate(0 1034.50) scale(1.200 1.000)" font-size="16.2"><tspan x="465.56">9</tspan><tspan x="474.10">0</tspan><tspan x="482.58">0</tspan></text>
<text transform="translate(0 1034.50) scale(1.200 1.000)" font-size="16.2"><tspan x="508.67" textLength="4.79" lengthAdjust="spacingAndGlyphs">1</tspan><tspan x="513.43">0</tspan><tspan x="521.95">0</tspan><tspan x="530.48">0</tspan></text>
<text transform="translate(287.35 1063.50) scale(1.0201 0.9800)" font-size="16.5">Frequency (MHz)</text>
<text transform="translate(28.7 867.93) rotate(-90) scale(1.0546 1.08)" font-size="16.5">Amplitude (dB&#956;V/m)</text>
</g><g fill="#25242f" stroke="#25242f" stroke-width="0.3">
<text transform="translate(85.45 1083.30) scale(1.0179 1.0000)" font-size="16.5">DC2535A Demo Board</text>
<text transform="translate(85.56 1103.20) scale(1.0364 1.0000)" font-size="16.5">(with EMI Filter Installed)</text>
<text transform="translate(85.76 1123.10) scale(0.9780 1.0000)" font-size="16.5">14 V Input to 5 V </text>
<text transform="translate(217.28 1123.10) scale(0.9837 1.0000)" font-size="16.5">Output 1 at 2 A and </text>
<text transform="translate(370.08 1123.10) scale(0.9940 1.0000)" font-size="16.5">3.3 V Output </text>
<text transform="translate(471.89 1123.10) scale(1.0384 1.0000)" font-size="16.5">2 at 2 A, f</text>
<text transform="translate(547.32 1127.60) scale(0.9199 1.0000)" font-size="13">SW </text>
<text transform="translate(570.53 1123.10) scale(0.9685 1.0000)" font-size="16.5">= 2 MHz</text>
</g>
<rect x="462.5" y="1095" width="200" height="48" fill="#fff" fill-opacity="0.3"/>
<text transform="translate(478.08 1134.00) scale(0.9179 1.0000)" font-size="21" font-weight="normal" fill="#cfe6c2">www.cntronics.com</text></svg>
</body></html>
